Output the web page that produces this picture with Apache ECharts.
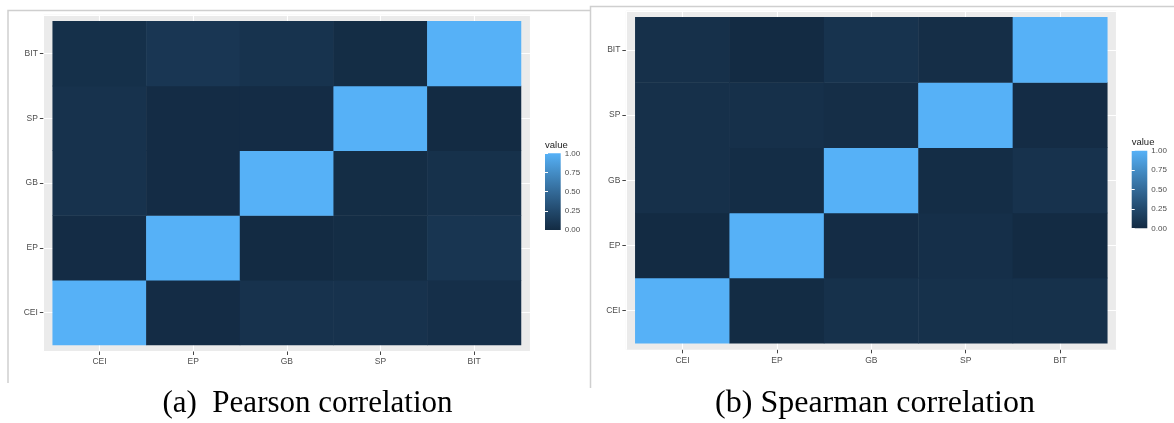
<!DOCTYPE html>
<html>
<head>
<meta charset="utf-8">
<script src="https://cdn.jsdelivr.net/npm/echarts@6/dist/echarts.min.js"></script>
<style>
html,body{margin:0;padding:0;background:#fff;}
#c{width:1174px;height:423px;}
</style>
</head>
<body>
<div id="c"></div>
<script>
// ---- data ----
const xCats = ['CEI', 'EP', 'GB', 'SP', 'BIT'];
const yCats = ['CEI', 'EP', 'GB', 'SP', 'BIT'];
// rows follow yCats (bottom to top), columns follow xCats
const pearson = [
  [1.00, 0.010, 0.060, 0.060, 0.035],
  [0.010, 1.00, 0.000, 0.015, 0.085],
  [0.060, 0.010, 1.00, 0.015, 0.050],
  [0.060, 0.010, 0.010, 1.00, 0.000],
  [0.040, 0.095, 0.070, 0.015, 1.00]
];
const spearman = [
  [1.00, 0.005, 0.050, 0.050, 0.050],
  [0.000, 1.00, 0.010, 0.035, 0.000],
  [0.045, 0.020, 1.00, 0.020, 0.060],
  [0.045, 0.045, 0.025, 1.00, 0.010],
  [0.045, 0.000, 0.065, 0.025, 1.00]
];
const legendMin = 0;
const legendMax = 1;
const legendStep = 0.25;
const legendTitle = 'value';
const captions = ['(a)  Pearson correlation', '(b) Spearman correlation'];
const colorStops = ['#132B43', '#22496C', '#336A98', '#448DC6', '#56B1F7'];

function toCells(m) {
  const out = [];
  m.forEach((row, i) => row.forEach((v, j) => out.push([j, i, v])));
  return out;
}

const chart = echarts.init(document.getElementById('c'));

// layout of the two panels (tile area; panel padding = 0.1 of a cell as in ggplot)
const panels = [
  { tile: { left: 52.7, top: 21.3, width: 468.3, height: 323.7 }, bar: { left: 545, top: 153.3, width: 15.7, height: 76.7 }, data: pearson },
  { tile: { left: 635.3, top: 17.3, width: 472, height: 326 }, bar: { left: 1131.7, top: 150.7, width: 15.6, height: 77.6 }, data: spearman }
];

const FONT = 'Liberation Sans, Arial, sans-serif';
const grid = [], xAxis = [], yAxis = [], series = [], visualMap = [];
panels.forEach((p, k) => {
  const padX = p.tile.width / xCats.length * 0.1;
  const padY = p.tile.height / yCats.length * 0.1;
  const g0 = grid.length;
  grid.push({ left: p.tile.left - padX, top: p.tile.top - padY, width: p.tile.width + 2 * padX, height: p.tile.height + 2 * padY,
    show: true, backgroundColor: '#EBEBEB', borderWidth: 0 });
  grid.push({ left: p.tile.left, top: p.tile.top, width: p.tile.width, height: p.tile.height });
  grid.push({ left: p.bar.left, top: p.bar.top, width: p.bar.width, height: p.bar.height });

  // panel background with white major grid lines (discrete scale expanded by 0.6)
  const bgAxis = n => ({ gridIndex: g0, type: 'value', min: 1 - 0.6, max: n + 0.6,
    axisLine: { show: false }, axisTick: { show: false }, axisLabel: { show: false },
    splitLine: { show: true, lineStyle: { color: '#ffffff', width: 1.1 } } });
  xAxis.push(bgAxis(xCats.length));
  yAxis.push(bgAxis(yCats.length));

  const axisCommon = (margin) => ({
    axisLine: { show: false },
    axisTick: { show: true, alignWithLabel: true, length: 3.5, lineStyle: { color: '#444', width: 1 } },
    axisLabel: { fontFamily: FONT, fontSize: 8.5, color: '#4D4D4D', margin: margin },
    splitLine: { show: false }
  });
  xAxis.push(Object.assign({ gridIndex: g0 + 1, type: 'category', data: xCats, position: 'bottom', offset: padY }, axisCommon(6)));
  yAxis.push(Object.assign({ gridIndex: g0 + 1, type: 'category', data: yCats, position: 'left', offset: padX }, axisCommon(5.5)));

  xAxis.push({ gridIndex: g0 + 2, type: 'value', min: 0, max: 1, show: false });
  const barAxis = () => ({
    gridIndex: g0 + 2, type: 'value', min: legendMin, max: legendMax, interval: legendStep, z: 10,
    axisLine: { show: false },
    axisTick: { show: true, inside: true, length: 3, lineStyle: { color: '#ffffff', width: 1 } },
    splitLine: { show: false }
  });
  yAxis.push(Object.assign(barAxis(), { position: 'right',
    axisLabel: { formatter: v => v.toFixed(2), fontFamily: FONT, fontSize: 8, color: '#4D4D4D', margin: 4 } }));
  yAxis.push(Object.assign(barAxis(), { position: 'left', axisLabel: { show: false },
    name: legendTitle, nameLocation: 'end', nameGap: 3,
    nameTextStyle: { align: 'left', verticalAlign: 'bottom', fontFamily: FONT, fontSize: 9.5, color: '#222' } }));

  const xa = xAxis.length, ya = yAxis.length;
  series.push({
    type: 'heatmap', xAxisIndex: xa - 2, yAxisIndex: ya - 3, data: toCells(p.data),
    itemStyle: { borderWidth: 0 }, emphasis: { disabled: true }, silent: true
  });
  visualMap.push({ type: 'continuous', show: false, min: legendMin, max: legendMax, seriesIndex: series.length - 1,
    inRange: { color: colorStops } });
  series.push({
    type: 'custom', xAxisIndex: xa - 1, yAxisIndex: ya - 2, data: [[legendMin, legendMax]], silent: true,
    renderItem: function (params, api) {
      const a = api.coord([0, legendMin]);
      const b = api.coord([1, legendMax]);
      return {
        type: 'rect',
        shape: { x: a[0], y: b[1], width: b[0] - a[0], height: a[1] - b[1] },
        style: { fill: new echarts.graphic.LinearGradient(0, 1, 0, 0,
          colorStops.map((c, i) => ({ offset: i / (colorStops.length - 1), color: c }))) }
      };
    }
  });
});

chart.setOption({
  animation: false,
  backgroundColor: '#ffffff',
  grid, xAxis, yAxis, series, visualMap,
  graphic: [
    { type: 'polyline', shape: { points: [[8, 383], [8, 10.5], [590, 10.5]] }, style: { stroke: '#cfcfcf', lineWidth: 1.5, fill: null }, silent: true },
    { type: 'polyline', shape: { points: [[590.5, 388], [590.5, 6.5], [1174, 6.5]] }, style: { stroke: '#cfcfcf', lineWidth: 1.5, fill: null }, silent: true },
    { type: 'text', x: 307.5, y: 404, style: { text: captions[0], align: 'center', verticalAlign: 'middle',
      font: '31px "Liberation Serif", "Times New Roman", serif', fill: '#000' }, silent: true },
    { type: 'text', x: 875, y: 404, style: { text: captions[1], align: 'center', verticalAlign: 'middle',
      font: '32px "Liberation Serif", "Times New Roman", serif', fill: '#000' }, silent: true }
  ]
});
</script>
</body>
</html>
